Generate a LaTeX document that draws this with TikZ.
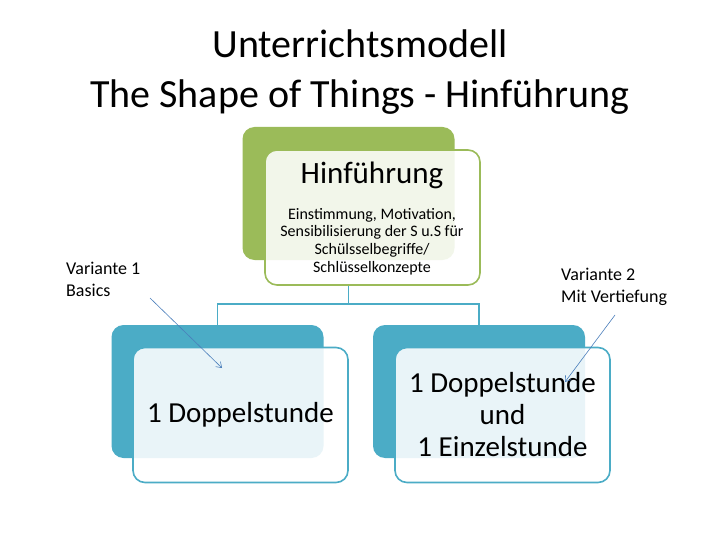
\documentclass[tikz,border=0pt]{standalone}
\usepackage{fontspec}
\setmainfont{Carlito}
\usetikzlibrary{arrows.meta, positioning, calc}
\definecolor{leafgreen}{HTML}{9BBB59}
\definecolor{tealblue}{HTML}{4BACC6}
\definecolor{pointerblue}{HTML}{4A7EBB}

\begin{document}
\begin{tikzpicture}[
  x=1pt, y=-1pt,
  backcard/.style={
    rounded corners=12pt, fill=#1, inner sep=0pt,
    minimum width=212pt, minimum height=133pt
  },
  frontcard/.style={
    rounded corners=12pt, draw=#1, line width=1.6pt, fill=white, fill opacity=0.88,
    text opacity=1, inner sep=0pt, align=center,
    minimum width=215pt, minimum height=135pt,
    font=\fontsize{29}{32}\selectfont
  },
  branch/.style={draw=tealblue, line width=1.6pt},
  pointer/.style={draw=pointerblue, line width=0.6pt, -{Straight Barb[length=5pt,width=7pt]}},
  note/.style={font=\fontsize{18}{22}\selectfont, align=left, anchor=north west, inner sep=0pt}
]
  \useasboundingbox (0,0) rectangle (720,540);
  \fill[white] (0,0) rectangle (720,540);

  \node[anchor=north, align=center, inner sep=0pt, font=\fontsize{40}{50}\selectfont] (title) at (360,30)
    {Unterrichtsmodell\\The Shape of Things - Hinführung};

  \node[backcard=leafgreen] (hinback) at (348.5,193.5) {};
  \node[backcard=tealblue] (leftback) at (217.5,391.5) {};
  \node[backcard=tealblue] (rightback) at (479,391.5) {};

  \draw[branch] (hinback.south |- 0,285) -- ++(0,19) coordinate (fork) -| (leftback.north);
  \draw[branch] (fork) -| (rightback.north);

  \node[frontcard=leafgreen] (hin) at (372.5,217.5) {};
  \node[frontcard=tealblue] (left) at (240.5,415) {1 Doppelstunde};
  \node[frontcard=tealblue] (right) at (502.5,415) {1 Doppelstunde\\und\\1 Einzelstunde};

  \node[font=\fontsize{31}{36}\selectfont, inner sep=0pt] (hintitle) at (372,175) {Hinführung};
  \node[anchor=north, align=center, inner sep=0pt, font=\fontsize{16}{17.7}\selectfont] (hintext) at (372,208)
    {Einstimmung, Motivation,\\Sensibilisierung der S u.S für\\Schülsselbegriffe/\\Schlüsselkonzepte};

  \node[note] (var1) at (66,262) {Variante 1\\Basics};
  \node[note] (var2) at (561,268) {Variante 2\\Mit Vertiefung};

  \coordinate (tail1) at (150,298);
  \coordinate (tip1) at (222,368);
  \coordinate (tail2) at (615,315);
  \coordinate (tip2) at (565,382);
  \draw[pointer] (tail1) -- (tip1);
  \draw[pointer] (tail2) -- (tip2);
\end{tikzpicture}
\end{document}
